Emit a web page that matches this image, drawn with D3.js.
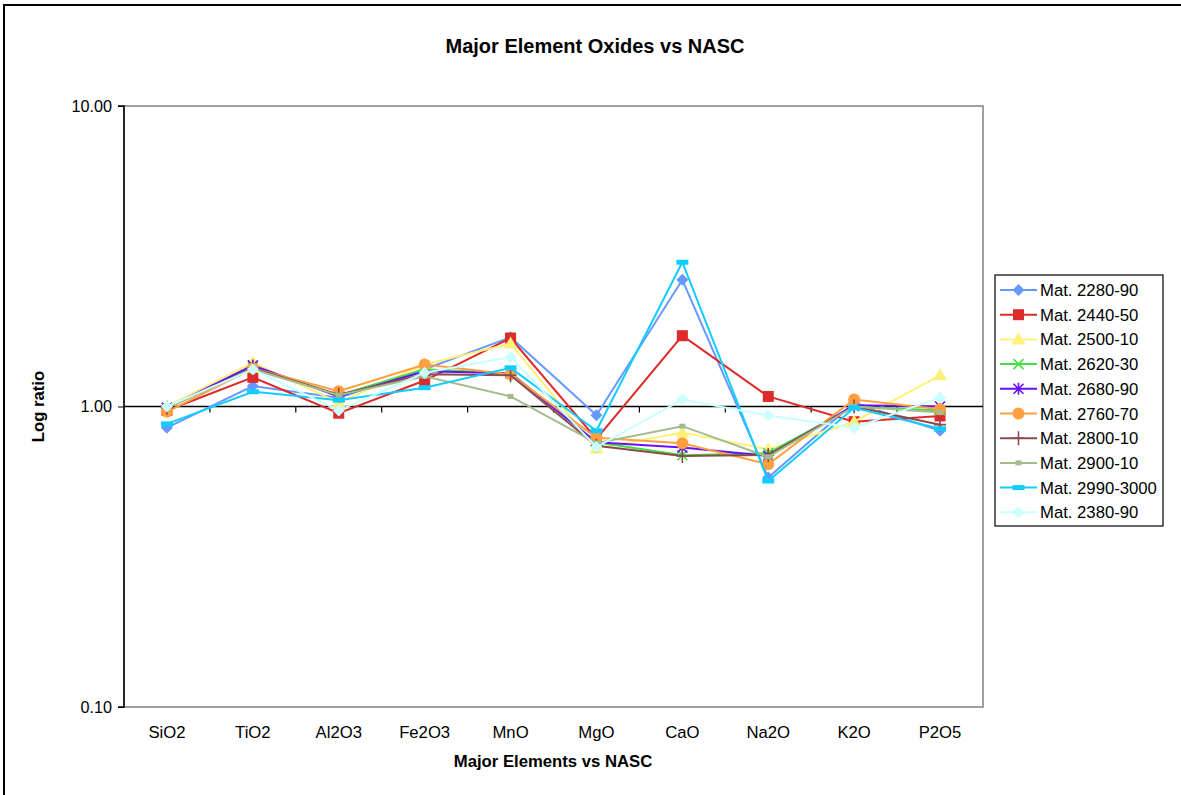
<!DOCTYPE html>
<html>
<head>
<meta charset="utf-8">
<script src="https://cdn.jsdelivr.net/npm/d3@7/dist/d3.min.js"></script>
<style>
  html, body { margin: 0; padding: 0; background: #fff; }
  svg { display: block; font-family: "Liberation Sans", Arial, sans-serif; }
</style>
</head>
<body>
<svg id="chart" width="1181" height="795"></svg>
<script>
// Oxide categories (x axis)
const categories = ["SiO2", "TiO2", "Al2O3", "Fe2O3", "MnO", "MgO", "CaO", "Na2O", "K2O", "P2O5"];

// Sample ratios relative to NASC, one array per sample interval
const mat2280 = [0.85, 1.17, 1.07, 1.33, 1.70, 0.935, 2.64, 0.58, 1.03, 0.83];
const mat2440 = [0.97, 1.25, 0.95, 1.22, 1.69, 0.78, 1.72, 1.08, 0.89, 0.93];
const mat2500 = [1.00, 1.40, 1.03, 1.38, 1.62, 0.725, 0.82, 0.72, 0.89, 1.27];
const mat2620 = [0.99, 1.35, 1.09, 1.33, 1.29, 0.76, 0.688, 0.70, 1.00, 0.97];
const mat2680 = [0.99, 1.37, 1.08, 1.31, 1.29, 0.76, 0.73, 0.685, 1.01, 1.00];
const mat2760 = [0.96, 1.34, 1.125, 1.38, 1.28, 0.787, 0.755, 0.642, 1.055, 0.98];
const mat2800 = [0.99, 1.34, 1.095, 1.28, 1.27, 0.74, 0.684, 0.69, 1.00, 0.87];
const mat2900 = [0.99, 1.33, 1.09, 1.26, 1.08, 0.755, 0.86, 0.68, 1.00, 0.955];
const mat2990 = [0.875, 1.12, 1.05, 1.155, 1.345, 0.83, 3.02, 0.565, 0.99, 0.843];
const mat2380 = [1.00, 1.33, 0.97, 1.295, 1.46, 0.733, 1.055, 0.933, 0.85, 1.07];

const seriesNames = ["Mat. 2280-90", "Mat. 2440-50", "Mat. 2500-10", "Mat. 2620-30", "Mat. 2680-90",
                     "Mat. 2760-70", "Mat. 2800-10", "Mat. 2900-10", "Mat. 2990-3000", "Mat. 2380-90"];
const seriesValues = [mat2280, mat2440, mat2500, mat2620, mat2680, mat2760, mat2800, mat2900, mat2990, mat2380];

// Y axis tick values and labels
const yTicks = [0.1, 1, 10];
const yTickLabels = ["0.10", "1.00", "10.00"];

// Styling per series: colour and marker type
const styles = [
  { color: "#6699FF", marker: "diamond" },
  { color: "#DD2A2A", marker: "square" },
  { color: "#FFF07A", marker: "triangle" },
  { color: "#44DD44", marker: "cross" },
  { color: "#6611FF", marker: "star" },
  { color: "#FF9F40", marker: "circle" },
  { color: "#8A4B4B", marker: "plus" },
  { color: "#A3BC8E", marker: "smallsquare" },
  { color: "#11CCFF", marker: "dash" },
  { color: "#C9FFFF", marker: "diamond" }
];

const FS = 16.7;

const svg = d3.select("#chart");

// Outer chart frame
svg.append("rect")
  .attr("x", 4).attr("y", 5)
  .attr("width", 1200).attr("height", 820)
  .attr("fill", "#fff").attr("stroke", "#000").attr("stroke-width", 2);

const plot = { left: 124, right: 983, top: 106, bottom: 707 };

const x = d3.scaleBand().domain(categories).range([plot.left, plot.right]).padding(0);
const y = d3.scaleLog().domain([0.1, 10]).range([plot.bottom, plot.top]);

// Title
svg.append("text")
  .attr("x", 595).attr("y", 53)
  .attr("text-anchor", "middle")
  .attr("font-size", 20).attr("font-weight", "bold")
  .text("Major Element Oxides vs NASC");

// Plot area border (grey)
svg.append("rect")
  .attr("x", plot.left).attr("y", plot.top)
  .attr("width", plot.right - plot.left).attr("height", plot.bottom - plot.top)
  .attr("fill", "#fff").attr("stroke", "#808080").attr("stroke-width", 1.5);

// Y axis
const yAxis = d3.axisLeft(y)
  .tickValues(yTicks)
  .tickFormat((d, i) => yTickLabels[i])
  .tickSize(6).tickPadding(6);
const gy = svg.append("g")
  .attr("transform", `translate(${plot.left},0)`)
  .call(yAxis);
gy.attr("font-size", null).attr("font-family", null);
gy.select(".domain").attr("stroke", "#000").attr("stroke-width", 1.5)
  .attr("d", `M-6,${plot.top}H0V${plot.bottom}H-6`);
gy.selectAll(".tick line").attr("stroke", "#000");
gy.selectAll(".tick text").attr("font-size", 16.2).attr("fill", "#000");

// Category axis crossing at ratio 1.0, ticks at category boundaries
const boundaries = d3.range(categories.length + 1).map(i => plot.left + i * x.bandwidth());
const cross = y(1);
svg.append("line")
  .attr("x1", plot.left).attr("x2", plot.right)
  .attr("y1", cross).attr("y2", cross)
  .attr("stroke", "#000").attr("stroke-width", 1.5);
svg.append("g").selectAll("line")
  .data(boundaries.slice(1, -1))
  .join("line")
  .attr("x1", d => d).attr("x2", d => d)
  .attr("y1", cross).attr("y2", cross + 6)
  .attr("stroke", "#000").attr("stroke-width", 1.2);

// Category labels along the bottom of the plot
svg.append("g").selectAll("text")
  .data(categories)
  .join("text")
  .attr("x", d => x(d) + x.bandwidth() / 2)
  .attr("y", 738)
  .attr("text-anchor", "middle")
  .attr("font-size", FS)
  .text(d => d);

// Axis titles
svg.append("text")
  .attr("x", 553).attr("y", 767)
  .attr("text-anchor", "middle")
  .attr("font-size", FS).attr("font-weight", "bold")
  .text("Major Elements vs NASC");
svg.append("text")
  .attr("transform", `translate(44,${cross}) rotate(-90)`)
  .attr("text-anchor", "middle")
  .attr("font-size", FS).attr("font-weight", "bold")
  .text("Log ratio");

// Marker drawing
function drawMarker(g, type, color, cx, cy) {
  switch (type) {
    case "diamond":
      g.append("path").attr("d", `M${cx},${cy - 6}L${cx + 6},${cy}L${cx},${cy + 6}L${cx - 6},${cy}Z`)
        .attr("fill", color);
      break;
    case "square":
      g.append("rect").attr("x", cx - 5.5).attr("y", cy - 5.5).attr("width", 11).attr("height", 11)
        .attr("fill", color);
      break;
    case "triangle":
      g.append("path").attr("d", `M${cx},${cy - 7}L${cx + 7},${cy + 5}L${cx - 7},${cy + 5}Z`)
        .attr("fill", color);
      break;
    case "cross":
      g.append("path").attr("d", `M${cx - 5},${cy - 5}L${cx + 5},${cy + 5}M${cx - 5},${cy + 5}L${cx + 5},${cy - 5}`)
        .attr("stroke", color).attr("stroke-width", 1.6).attr("fill", "none");
      break;
    case "star":
      g.append("path").attr("d", `M${cx - 5},${cy - 5}L${cx + 5},${cy + 5}M${cx - 5},${cy + 5}L${cx + 5},${cy - 5}M${cx},${cy - 6}L${cx},${cy + 6}`)
        .attr("stroke", color).attr("stroke-width", 1.6).attr("fill", "none");
      break;
    case "circle":
      g.append("circle").attr("cx", cx).attr("cy", cy).attr("r", 6).attr("fill", color);
      break;
    case "plus":
      g.append("path").attr("d", `M${cx - 6},${cy}L${cx + 6},${cy}M${cx},${cy - 7}L${cx},${cy + 7}`)
        .attr("stroke", color).attr("stroke-width", 1.6).attr("fill", "none");
      break;
    case "smallsquare":
      g.append("rect").attr("x", cx - 3).attr("y", cy - 2.5).attr("width", 6).attr("height", 5)
        .attr("fill", color);
      break;
    case "dash":
      g.append("rect").attr("x", cx - 6).attr("y", cy - 2.5).attr("width", 12).attr("height", 5)
        .attr("fill", color);
      break;
  }
}

const line = d3.line()
  .x((d, i) => x(categories[i]) + x.bandwidth() / 2)
  .y(d => y(d));

const seriesG = svg.append("g");
seriesValues.forEach((vals, si) => {
  const st = styles[si];
  const g = seriesG.append("g");
  g.append("path")
    .datum(vals)
    .attr("d", line)
    .attr("fill", "none")
    .attr("stroke", st.color)
    .attr("stroke-width", 2);
  vals.forEach((v, i) => {
    drawMarker(g, st.marker, st.color, x(categories[i]) + x.bandwidth() / 2, y(v));
  });
});

// Legend
const legend = { x: 995, y: 275, w: 168, h: 251 };
svg.append("rect")
  .attr("x", legend.x).attr("y", legend.y)
  .attr("width", legend.w).attr("height", legend.h)
  .attr("fill", "#fff").attr("stroke", "#000").attr("stroke-width", 1.2);
seriesNames.forEach((name, i) => {
  const st = styles[i];
  const ly = 290 + i * 24.7;
  const g = svg.append("g");
  g.append("line")
    .attr("x1", 1000).attr("x2", 1037)
    .attr("y1", ly).attr("y2", ly)
    .attr("stroke", st.color).attr("stroke-width", 2);
  drawMarker(g, st.marker, st.color, 1018.5, ly);
  g.append("text")
    .attr("x", 1040).attr("y", ly + 6)
    .attr("font-size", FS)
    .text(name);
});
</script>
</body>
</html>
